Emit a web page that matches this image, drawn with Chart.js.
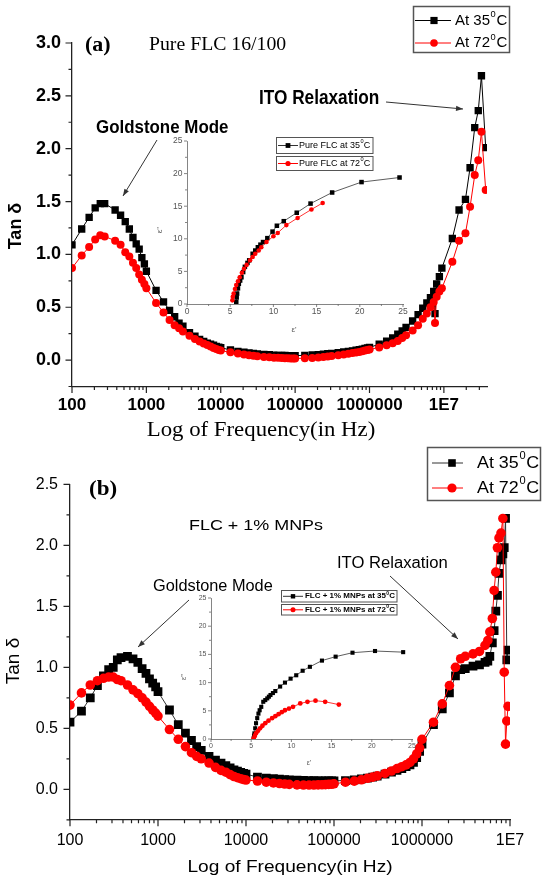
<!DOCTYPE html>
<html>
<head>
<meta charset="utf-8">
<script src="https://cdn.jsdelivr.net/npm/chart.js@4.4.1/dist/chart.umd.min.js"></script>
<style>
  html, body { margin: 0; padding: 0; background: #fff; }
  #wrap { position: relative; width: 542px; height: 878px; overflow: hidden; background: #fff; }
  #wrap canvas { position: absolute; left: 0; top: 0; }
</style>
</head>
<body>
<div id="wrap">
  <canvas id="mainA" width="542" height="878"></canvas>
  <canvas id="insetA" width="542" height="878"></canvas>
  <canvas id="mainB" width="542" height="878"></canvas>
  <canvas id="insetB" width="542" height="878"></canvas>
</div>
<script>
// ---- data ----
const xTickValues = [1e2, 1e3, 1e4, 1e5, 1e6, 1e7];
const xTickLabels = ['100', '1000', '10000', '100000', '1000000', '1E7'];

// (a) Pure FLC 16/100 : tan delta vs frequency (Hz)
const freqA = [
  100, 135, 170, 205, 240, 275, 380, 450, 520, 590, 660, 730, 800, 870, 940,
  1000, 1350, 1700, 2050, 2400, 2750, 3100, 3800, 4500, 5200, 5900, 6600, 7300, 8000, 8700, 9400,
  10000, 13500, 17000, 20500, 24000, 27500, 31000, 38000, 45000, 52000, 59000, 66000, 73000, 80000, 87000, 94000,
  100000, 135000, 170000, 205000, 240000, 275000, 310000, 380000, 450000, 520000, 590000, 660000, 730000, 800000, 870000, 940000,
  1000000, 1350000, 1700000, 2050000, 2400000, 2750000, 3100000, 3800000, 4500000, 5200000, 5900000, 6600000, 7300000, 7600000, 8000000, 8700000, 9400000,
  13000000, 16000000, 19500000, 22500000, 26000000, 29000000, 32000000, 36500000
];
const tanA35 = [
  1.09, 1.24, 1.35, 1.44, 1.48, 1.48, 1.42, 1.37, 1.31, 1.24, 1.16, 1.10, 1.05, 0.97, 0.91,
  0.84, 0.66, 0.55, 0.47, 0.41, 0.35, 0.32, 0.26, 0.225, 0.195, 0.177, 0.16, 0.15, 0.14, 0.13, 0.123,
  0.118, 0.095, 0.082, 0.074, 0.067, 0.062, 0.058, 0.053, 0.05, 0.047, 0.045, 0.044, 0.043, 0.042, 0.042, 0.042,
  0.042, 0.045, 0.048, 0.052, 0.056, 0.06, 0.064, 0.07, 0.076, 0.082, 0.087, 0.093, 0.098, 0.104, 0.11, 0.115,
  0.12, 0.15, 0.18, 0.21, 0.245, 0.275, 0.31, 0.37, 0.43, 0.49, 0.54, 0.59, 0.65, 0.44, 0.72, 0.79, 0.87,
  1.15, 1.42, 1.52, 1.82, 2.20, 2.36, 2.69, 2.01
];
const tanA72 = [
  0.87, 0.99, 1.07, 1.14, 1.18, 1.17, 1.13, 1.09, 1.02, 0.98, 0.92, 0.87, 0.81, 0.76, 0.72,
  0.68, 0.54, 0.45, 0.38, 0.33, 0.30, 0.27, 0.23, 0.20, 0.175, 0.158, 0.142, 0.128, 0.115, 0.104, 0.096,
  0.09, 0.073, 0.062, 0.053, 0.045, 0.04, 0.036, 0.03, 0.026, 0.023, 0.021, 0.019, 0.018, 0.017, 0.016, 0.016,
  0.016, 0.017, 0.02, 0.025, 0.03, 0.034, 0.038, 0.045, 0.052, 0.06, 0.066, 0.072, 0.077, 0.083, 0.09, 0.095,
  0.10, 0.12, 0.14, 0.16, 0.18, 0.21, 0.235, 0.28, 0.33, 0.39, 0.44, 0.50, 0.55, 0.35, 0.60, 0.65, 0.68,
  0.93, 1.13, 1.20, 1.45, 1.75, 1.89, 2.16, 1.61
];

// (b) FLC + 1% MNPs
const freqB = [
  100, 135, 170, 205, 240, 275, 310, 345, 380, 450, 520, 590, 660, 730, 800, 870, 940,
  1000, 1350, 1700, 2050, 2400, 2750, 3100, 3800, 4500, 5200, 5900, 6600, 7300, 8000, 8700, 9400,
  10000, 13500, 17000, 20500, 24000, 27500, 31000, 38000, 45000, 52000, 59000, 66000, 73000, 80000, 87000, 94000,
  100000, 135000, 170000, 205000, 240000, 275000, 310000, 380000, 450000, 520000, 590000, 660000, 730000, 800000, 870000, 940000,
  1000000, 1350000, 1700000, 2050000, 2400000, 2750000, 3100000, 3800000, 4500000, 5200000, 5600000, 5900000,
  6300000, 6600000, 6900000, 7200000, 7500000, 7900000, 8300000, 8600000, 8900000, 9200000, 9500000
];
const tanB35 = [
  0.55, 0.64, 0.75, 0.85, 0.93, 0.98, 1.00, 1.06, 1.08, 1.09, 1.07, 1.04, 0.99, 0.95, 0.905, 0.87, 0.84,
  0.80, 0.65, 0.53, 0.46, 0.40, 0.35, 0.32, 0.27, 0.24, 0.215, 0.195, 0.175, 0.16, 0.148, 0.138, 0.13,
  0.125, 0.10, 0.092, 0.087, 0.083, 0.08, 0.078, 0.075, 0.073, 0.072, 0.071, 0.07, 0.07, 0.07, 0.07, 0.07,
  0.07, 0.072, 0.078, 0.085, 0.092, 0.10, 0.108, 0.125, 0.14, 0.155, 0.17, 0.185, 0.20, 0.22, 0.26, 0.31,
  0.37, 0.53, 0.66, 0.79, 0.93, 0.98, 0.99, 1.01, 1.02, 1.04, 1.05, 1.09,
  1.20, 1.30, 1.46, 1.59, 1.77, 1.88, 1.93, 1.98, 2.22, 1.06, 1.14
];
const tanB72 = [
  0.69, 0.79, 0.855, 0.89, 0.91, 0.92, 0.92, 0.90, 0.89, 0.855, 0.815, 0.785, 0.75, 0.715, 0.68, 0.65, 0.625,
  0.60, 0.49, 0.41, 0.35, 0.30, 0.27, 0.25, 0.215, 0.18, 0.155, 0.14, 0.12, 0.105, 0.095, 0.087, 0.08,
  0.076, 0.068, 0.058, 0.052, 0.047, 0.043, 0.04, 0.036, 0.035, 0.035, 0.035, 0.036, 0.037, 0.038, 0.04, 0.041,
  0.045, 0.058, 0.067, 0.078, 0.09, 0.10, 0.11, 0.13, 0.15, 0.17, 0.185, 0.20, 0.22, 0.25, 0.29, 0.34,
  0.41, 0.55, 0.70, 0.85, 1.00, 1.07, 1.09, 1.11, 1.13, 1.18, 1.22, 1.29,
  1.40, 1.63, 1.78, 1.98, 2.06, 2.10, 2.22, 0.96, 0.37, 0.56, 0.68
];

// insets: Cole-Cole  (eps' , eps'')
const epsA35re = [5.7, 5.75, 5.8, 5.9, 6.0, 6.15, 6.3, 6.5, 6.7, 7.0, 7.2, 7.6, 7.9, 8.2, 8.5, 8.8, 9.3, 9.9, 10.4, 11.2, 12.7, 14.3, 16.8, 20.2, 24.6];
const epsA35im = [0.3, 1.0, 1.6, 2.4, 3.1, 3.6, 4.1, 4.9, 5.7, 6.3, 6.7, 7.7, 8.2, 8.7, 9.1, 9.5, 10.1, 11.1, 12.0, 12.7, 14.0, 15.4, 17.1, 18.7, 19.4];
const epsA72re = [5.25, 5.3, 5.4, 5.55, 5.7, 5.9, 6.1, 6.35, 6.6, 6.9, 7.3, 7.6, 7.9, 8.3, 8.6, 9.2, 10.0, 10.5, 11.5, 12.8, 14.4, 15.7];
const epsA72im = [0.56, 1.1, 1.6, 2.3, 2.9, 3.5, 4.1, 4.8, 5.4, 6.0, 6.7, 7.2, 7.7, 8.2, 8.7, 9.5, 10.4, 10.9, 12.1, 13.2, 14.5, 15.5];
const epsB35re = [5.3, 5.35, 5.4, 5.5, 5.6, 5.75, 5.9, 6.05, 6.25, 6.5, 6.75, 7.0, 7.2, 7.4, 7.7, 8.0, 8.6, 9.2, 9.9, 10.6, 11.4, 12.3, 13.8, 15.5, 17.6, 20.4, 23.9];
const epsB35im = [0.1, 0.6, 1.0, 1.9, 2.8, 3.7, 4.5, 5.1, 5.7, 6.6, 6.9, 7.2, 7.5, 7.8, 8.15, 8.5, 9.3, 10.0, 10.7, 11.3, 12.1, 12.8, 13.9, 14.6, 15.3, 15.6, 15.4];
const epsB72re = [5.3, 5.45, 5.6, 5.85, 6.1, 6.4, 6.75, 7.15, 7.6, 8.0, 8.4, 8.8, 9.2, 9.7, 10.2, 11.1, 12.0, 13.0, 14.2, 15.9];
const epsB72im = [0.1, 0.55, 1.0, 1.45, 1.9, 2.35, 2.8, 3.25, 3.7, 4.05, 4.4, 4.75, 5.1, 5.4, 5.7, 6.3, 6.6, 6.8, 6.6, 6.1];

// ---- helpers ----
const SANS = '"Liberation Sans", Arial, sans-serif';
const SERIF = '"Liberation Serif", "Times New Roman", serif';
Chart.defaults.font.family = SANS;

const pts = (xs, ys) => xs.map((x, i) => ({ x: x, y: ys[i] }));

// tick marks at 1..9 x 10^n
function decadeMarks(from, to) {
  const out = [];
  for (let e = from; e < to; e++) {
    for (let k = 1; k <= 9; k++) out.push(k * Math.pow(10, e));
  }
  out.push(Math.pow(10, to));
  return out;
}
const xMarksA = decadeMarks(2, 7).concat([2e7, 3e7]);
const xMarksB = decadeMarks(2, 7);

function xLabel(v) {
  const i = xTickValues.findIndex(t => Math.abs(v - t) / t < 1e-6);
  return i >= 0 ? xTickLabels[i] : '';
}

function label(ctx, s, x, y, font, sx, align, color, rot) {
  ctx.save();
  ctx.translate(x, y);
  if (rot) ctx.rotate(rot);
  ctx.scale(sx || 1, 1);
  ctx.font = font;
  ctx.fillStyle = color || '#000';
  ctx.textAlign = align || 'left';
  ctx.textBaseline = 'middle';
  ctx.fillText(s, 0, 0);
  ctx.restore();
}

function degText(ctx, x, y, pre, size, weight, sx) {
  ctx.save();
  ctx.translate(x, y);
  ctx.scale(sx || 1, 1);
  ctx.fillStyle = '#000';
  ctx.textBaseline = 'middle';
  ctx.textAlign = 'left';
  ctx.font = weight + ' ' + size + 'px ' + SANS;
  ctx.fillText(pre, 0, 0);
  let w = ctx.measureText(pre).width + size * 0.04;
  ctx.font = weight + ' ' + (size * 0.62) + 'px ' + SANS;
  ctx.fillText('0', w, -size * 0.4);
  w += ctx.measureText('0').width + size * 0.04;
  ctx.font = weight + ' ' + size + 'px ' + SANS;
  ctx.fillText('C', w, 0);
  ctx.restore();
}

function marker(ctx, style, x, y, r, color) {
  ctx.fillStyle = color;
  ctx.beginPath();
  if (style === 'rect') ctx.rect(x - r, y - r, 2 * r, 2 * r);
  else ctx.arc(x, y, r, 0, Math.PI * 2);
  ctx.fill();
}

function legendRow(ctx, y, x0, x1, mx, r, style, color, lineColor, tx, pre, size, weight, sx) {
  ctx.save();
  ctx.strokeStyle = lineColor;
  ctx.lineWidth = 1;
  ctx.beginPath();
  ctx.moveTo(x0, y);
  ctx.lineTo(x1, y);
  ctx.stroke();
  marker(ctx, style, mx, y, r, color);
  ctx.restore();
  degText(ctx, tx, y, pre, size, weight, sx);
}

function arrow(ctx, x1, y1, x2, y2) {
  ctx.save();
  ctx.strokeStyle = '#333';
  ctx.fillStyle = '#333';
  ctx.lineWidth = 1;
  ctx.beginPath();
  ctx.moveTo(x1, y1);
  ctx.lineTo(x2, y2);
  ctx.stroke();
  const a = Math.atan2(y2 - y1, x2 - x1), L = 7, W = 2.6;
  ctx.beginPath();
  ctx.moveTo(x2, y2);
  ctx.lineTo(x2 - L * Math.cos(a) + W * Math.sin(a), y2 - L * Math.sin(a) - W * Math.cos(a));
  ctx.lineTo(x2 - L * Math.cos(a) - W * Math.sin(a), y2 - L * Math.sin(a) + W * Math.cos(a));
  ctx.closePath();
  ctx.fill();
  ctx.restore();
}

// draws major / minor tick marks for the x (bottom) and y (left) scale
function tickMarks(major, minor, color, width) {
  return {
    id: 'tickMarks',
    afterDraw(chart) {
      const ctx = chart.ctx, xs = chart.scales.x, ys = chart.scales.y;
      ctx.save();
      ctx.strokeStyle = color;
      ctx.lineWidth = width;
      ctx.beginPath();
      xs.ticks.forEach(t => {
        const p = xs.getPixelForValue(t.value);
        ctx.moveTo(p, xs.top);
        ctx.lineTo(p, xs.top + (t.label ? major : minor));
      });
      ys.ticks.forEach(t => {
        const p = ys.getPixelForValue(t.value);
        ctx.moveTo(ys.right, p);
        ctx.lineTo(ys.right - (t.label ? major : minor), p);
      });
      ctx.stroke();
      ctx.restore();
    }
  };
}

function mainScales(o) {
  return {
    x: {
      type: 'logarithmic', min: 100, max: o.xMax,
      afterBuildTicks: s => { s.ticks = o.marks.map(v => ({ value: v })); },
      afterFit: s => { s.height = o.xh; s.paddingLeft = 0; s.paddingRight = 0; },
      grid: { display: false, drawTicks: true, tickLength: 7 },
      border: { display: true, color: '#222', width: 1.3 },
      ticks: { autoSkip: false, maxRotation: 0, minRotation: 0, padding: o.xPad, color: '#000',
        font: { family: SANS, size: o.xFont, weight: o.weight }, callback: v => xLabel(v) }
    },
    y: {
      min: -0.25, max: o.yMax,
      afterFit: s => { s.width = o.yw; s.paddingTop = 0; s.paddingBottom = 0; },
      grid: { display: false, drawTicks: true, tickLength: 6 },
      border: { display: true, color: '#222', width: 1.3 },
      ticks: { stepSize: 0.25, autoSkip: false, padding: o.yPad, color: '#000',
        font: { family: SANS, size: o.yFont, weight: o.weight },
        callback: v => (Math.round(v * 100) % 50 === 0 ? v.toFixed(1) : '') }
    }
  };
}

function insetScales(o) {
  const axis = (isX) => ({
    min: 0, max: 25,
    afterFit: s => {
      if (isX) { s.height = 30; s.paddingLeft = 0; s.paddingRight = 0; }
      else { s.width = 30; s.paddingTop = 0; s.paddingBottom = 0; }
    },
    grid: { display: false, drawTicks: true, tickLength: 3 },
    border: { display: true, color: '#666', width: 0.8 },
    ticks: { stepSize: 2.5, autoSkip: false, maxRotation: 0, padding: isX ? 0 : 1.5, color: '#555',
      font: { family: SANS, size: o.font },
      callback: v => (Math.round(v * 10) % 50 === 0 ? String(Math.round(v)) : '') }
  });
  return { x: Object.assign({ type: 'linear' }, axis(true)), y: axis(false) };
}

const common = {
  responsive: false, animation: false, devicePixelRatio: 1,
  events: [],
  plugins: { legend: { display: false }, tooltip: { enabled: false } }
};

// ---- panel (a) ----
new Chart(document.getElementById('mainA'), {
  type: 'line',
  data: {
    datasets: [
      { label: 'At 35°C', data: pts(freqA, tanA35), borderColor: '#000', backgroundColor: '#000',
        borderWidth: 1, pointStyle: 'rect', pointRadius: 5.2, pointBorderWidth: 0, tension: 0, order: 2 },
      { label: 'At 72°C', data: pts(freqA, tanA72), borderColor: '#ff0000', backgroundColor: '#ff0000',
        borderWidth: 1, pointStyle: 'circle', pointRadius: 4, pointBorderWidth: 0, tension: 0, order: 1 }
    ]
  },
  options: Object.assign({}, common, {
    layout: { padding: { left: 0, top: 43, right: 55, bottom: 438 } },
    scales: mainScales({ xMax: 3.8e7, marks: xMarksA, xh: 53.5, yw: 72, yMax: 3.0,
      xFont: 17, yFont: 18, weight: 'bold', xPad: 2, yPad: 5 })
  }),
  plugins: [tickMarks(6.5, 3.5, '#222', 1.2), {
    id: 'notesA',
    afterDraw(chart) {
      const ctx = chart.ctx;
      label(ctx, '(a)', 85, 46, 'bold 20px ' + SERIF, 1.1);
      label(ctx, 'Pure FLC 16/100', 149, 45, '19px ' + SERIF, 1.04);
      label(ctx, 'ITO Relaxation', 259, 98, 'bold 21px ' + SANS, 0.82);
      label(ctx, 'Goldstone Mode', 96, 128, 'bold 19px ' + SANS, 0.89);
      arrow(ctx, 386, 102, 463, 109);
      arrow(ctx, 157, 140, 123, 196);
      label(ctx, 'Log of Frequency(in Hz)', 261, 431, '20px ' + SERIF, 1.14, 'center');
      label(ctx, 'Tan δ', 16, 226, 'bold 18px ' + SANS, 1, 'center', '#000', -Math.PI / 2);
      ctx.save();
      ctx.strokeStyle = '#555';
      ctx.lineWidth = 1.5;
      ctx.strokeRect(413.5, 6.5, 96, 46);
      ctx.restore();
      legendRow(ctx, 20.5, 415, 451, 434, 3.6, 'rect', '#000', '#000', 455, 'At 35', 15, '');
      legendRow(ctx, 43, 415, 451, 434, 3.8, 'circle', '#ff0000', '#ff0000', 455, 'At 72', 15, '');
    }
  }]
});

new Chart(document.getElementById('insetA'), {
  type: 'line',
  data: {
    datasets: [
      { label: 'Pure FLC at 35°C', data: pts(epsA35re, epsA35im), borderColor: '#333', backgroundColor: '#000',
        borderWidth: 0.8, pointStyle: 'rect', pointRadius: 3.2, pointBorderWidth: 0, tension: 0, order: 2 },
      { label: 'Pure FLC at 72°C', data: pts(epsA72re, epsA72im), borderColor: '#ff0000', backgroundColor: '#ff0000',
        borderWidth: 0.8, pointStyle: 'circle', pointRadius: 2.3, pointBorderWidth: 0, tension: 0, order: 1 }
    ]
  },
  options: Object.assign({}, common, {
    layout: { padding: { left: 157, top: 141, right: 139, bottom: 544 } },
    scales: insetScales({ font: 8.5 })
  }),
  plugins: [tickMarks(3, 2, '#666', 0.8), {
    id: 'notesInsetA',
    afterDraw(chart) {
      const ctx = chart.ctx;
      label(ctx, "ε''", 160, 230, '8px ' + SANS, 1, 'center', '#555', -Math.PI / 2);
      label(ctx, "ε'", 294, 330, '8px ' + SANS, 1, 'center', '#555');
      ctx.save();
      ctx.strokeStyle = '#555';
      ctx.lineWidth = 1;
      ctx.strokeRect(276.5, 137.5, 96.5, 16);
      ctx.strokeRect(276.5, 156.5, 96.5, 14);
      ctx.restore();
      legendRow(ctx, 145.5, 278, 298, 288, 2.4, 'rect', '#000', '#333', 299, 'Pure FLC at 35', 9, '');
      legendRow(ctx, 163.5, 278, 298, 288, 2.6, 'circle', '#ff0000', '#ff0000', 299, 'Pure FLC at 72', 9, '');
    }
  }]
});

// ---- panel (b) ----
new Chart(document.getElementById('mainB'), {
  type: 'line',
  data: {
    datasets: [
      { label: 'At 35°C', data: pts(freqB, tanB35), borderColor: '#333', backgroundColor: '#000',
        borderWidth: 1, pointStyle: 'rect', pointRadius: 6.2, pointBorderWidth: 0, tension: 0, order: 2 },
      { label: 'At 72°C', data: pts(freqB, tanB72), borderColor: '#ff0000', backgroundColor: '#ff0000',
        borderWidth: 1, pointStyle: 'circle', pointRadius: 4.8, pointBorderWidth: 0, tension: 0, order: 1 }
    ]
  },
  options: Object.assign({}, common, {
    layout: { padding: { left: 0, top: 484.3, right: 32, bottom: 0 } },
    scales: mainScales({ xMax: 1e7, marks: xMarksB, xh: 58.2, yw: 70, yMax: 2.5,
      xFont: 16, yFont: 16, weight: 'normal', xPad: 4, yPad: 6 })
  }),
  plugins: [tickMarks(6.5, 3.5, '#222', 1.2), {
    id: 'notesB',
    afterDraw(chart) {
      const ctx = chart.ctx;
      label(ctx, '(b)', 89, 490, 'bold 20px ' + SERIF, 1.15);
      label(ctx, 'FLC + 1% MNPs', 189, 526, '15.5px ' + SANS, 1.157);
      label(ctx, 'ITO Relaxation', 337, 564, '16px ' + SANS, 1.04);
      label(ctx, 'Goldstone Mode', 153, 587, '16px ' + SANS, 1.02);
      arrow(ctx, 189, 600, 138, 647);
      arrow(ctx, 390, 576, 458, 639);
      label(ctx, 'Log of Frequency(in Hz)', 290, 867, '17px ' + SANS, 1.125, 'center');
      label(ctx, 'Tan δ', 14, 661, '19px ' + SANS, 1, 'center', '#000', -Math.PI / 2);
      ctx.save();
      ctx.strokeStyle = '#555';
      ctx.lineWidth = 1.5;
      ctx.strokeRect(427.5, 447.5, 113, 53);
      ctx.restore();
      legendRow(ctx, 463, 432, 463, 452, 3.8, 'rect', '#000', '#333', 477, 'At 35', 17, '', 1.05);
      legendRow(ctx, 488, 432, 463, 452, 4.6, 'circle', '#ff0000', '#ff0000', 477, 'At 72', 17, '', 1.05);
    }
  }]
});

new Chart(document.getElementById('insetB'), {
  type: 'line',
  data: {
    datasets: [
      { label: 'FLC + 1% MNPs at 35°C', data: pts(epsB35re, epsB35im), borderColor: '#333', backgroundColor: '#000',
        borderWidth: 0.8, pointStyle: 'rect', pointRadius: 2.9, pointBorderWidth: 0, tension: 0, order: 2 },
      { label: 'FLC + 1% MNPs at 72°C', data: pts(epsB72re, epsB72im), borderColor: '#ff0000', backgroundColor: '#ff0000',
        borderWidth: 0.8, pointStyle: 'circle', pointRadius: 2.4, pointBorderWidth: 0, tension: 0, order: 1 }
    ]
  },
  options: Object.assign({}, common, {
    layout: { padding: { left: 181, top: 598, right: 130, bottom: 109 } },
    scales: insetScales({ font: 7 })
  }),
  plugins: [tickMarks(3, 2, '#666', 0.8), {
    id: 'notesInsetB',
    afterDraw(chart) {
      const ctx = chart.ctx;
      label(ctx, "ε''", 184, 677, '7px ' + SANS, 1, 'center', '#555', -Math.PI / 2);
      label(ctx, "ε'", 309, 763, '7px ' + SANS, 1, 'center', '#555');
      ctx.save();
      ctx.strokeStyle = '#555';
      ctx.lineWidth = 1;
      ctx.strokeRect(281.5, 590.5, 115.5, 11.5);
      ctx.strokeRect(281.5, 604.5, 115.5, 10.5);
      ctx.restore();
      legendRow(ctx, 596.3, 283, 303, 293, 2.2, 'rect', '#000', '#333', 305, 'FLC + 1% MNPs at 35', 7.6, 'bold', 1.05);
      legendRow(ctx, 609.8, 283, 303, 293, 2.5, 'circle', '#ff0000', '#ff0000', 305, 'FLC + 1% MNPs at 72', 7.6, 'bold', 1.05);
    }
  }]
});
</script>
</body>
</html>
